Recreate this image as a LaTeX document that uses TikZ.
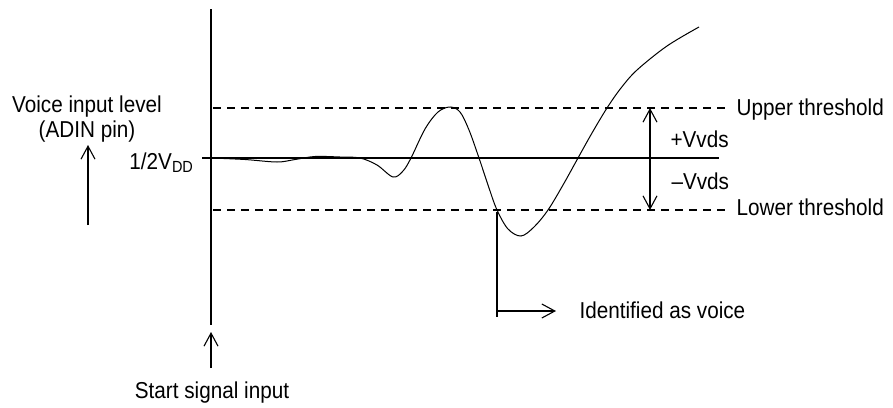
\documentclass[tikz,border=0pt]{standalone}
\usepackage{fontspec}
\setmainfont[FakeStretch=0.9]{Liberation Sans}
\usetikzlibrary{arrows.meta}
\begin{document}
\begin{tikzpicture}[x=1pt,y=-1pt,>={Straight Barb[length=13pt,width=14pt]},line width=1.1pt,
		lbl/.style={font=\fontsize{23}{25}\selectfont,inner sep=0pt},
		thr/.style={dash pattern=on 8pt off 6pt}]
				\useasboundingbox (0,0) rectangle (893,407);
				% axes
				\draw (211,9) -- (211,325);
				\draw (202,158) -- (719,158);
				\draw[thr] (213,108) -- (730,108);
				\draw[thr] (213,210) -- (730,210);
				% labels
				\node[lbl,align=center,anchor=north] (level) at (87,95) {Voice input level\\(ADIN pin)};
				\node[lbl,anchor=base east] (half) at (194,169) {1/2V\textsubscript{DD}};
				\node[lbl,anchor=base west] (upper) at (736,115) {Upper threshold};
				\node[lbl,anchor=base west] (lower) at (736,215) {Lower threshold};
				\node[lbl,anchor=base west] (pvds) at (670,147) {+Vvds};
				\node[lbl,anchor=base west] (mvds) at (671,189) {--Vvds};
				\node[lbl,anchor=base west] (voice) at (579,318) {Identified as voice};
				\node[lbl,anchor=base] (start) at (212,398) {Start signal input};
				% arrows
				\coordinate (lvtail) at (88,225);
				\coordinate (lvtip) at (88,145);
				\draw[->] (lvtail) -- (lvtip);
				\coordinate (sttail) at (211,368);
				\coordinate (sttip) at (211,332);
				\draw[->] (sttail) -- (sttip);
				\coordinate (vdsup) at (650,108);
				\coordinate (vdslo) at (650,210);
				\draw[<->] (vdsup) -- (vdslo);
				\coordinate (mktop) at (497,212);
				\coordinate (mkbot) at (497,317);
				\coordinate (mkarr) at (497,311);
				\coordinate (mkend) at (556,311);
				\draw (mktop) -- (mkbot);
				\draw[->] (mkarr) -- (mkend);
				% signal
				\draw[line width=1pt] plot[smooth,tension=0.55] coordinates {(211,158) (245,159.5) (277,162) (295,159.5) (315,156.5) (340,157) (360,158) (377,165) (393,177) (403,171) (411,158) (425,129) (438,112) (450,107) (460,112) (469,130) (479,158) (489,188) (497,210) (508,229) (521,236) (534,227) (548,210) (563,185) (578,158) (592,133) (607,108) (621,88) (637,70) (667,46) (699,27)};
			\end{tikzpicture}
\end{document}
